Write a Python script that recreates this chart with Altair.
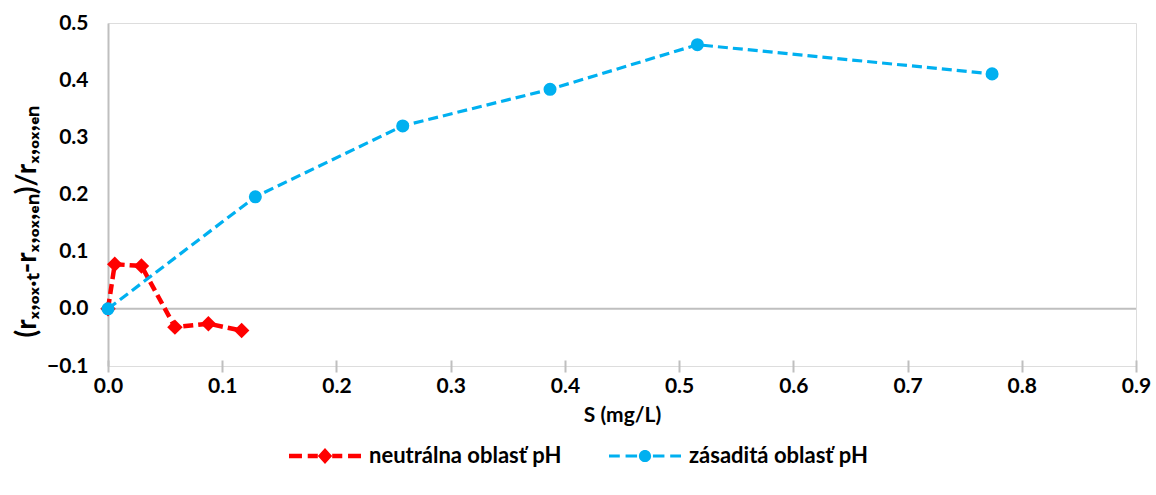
import altair as alt
import pandas as pd

series_names = ["neutrálna oblasť pH", "zásaditá oblasť pH"]
series_colors = ["#FF0000", "#00B0F0"]

neutral_S = [0.0, 0.0059, 0.0293, 0.0586, 0.0879, 0.117]
neutral_val = [0.0, 0.078, 0.075, -0.032, -0.026, -0.038]

basic_S = [0.0, 0.129, 0.258, 0.387, 0.516, 0.774]
basic_val = [0.0, 0.196, 0.320, 0.384, 0.462, 0.411]

x_ticks = [0.0, 0.1, 0.2, 0.3, 0.4, 0.5, 0.6, 0.7, 0.8, 0.9]
y_ticks = [-0.1, 0.0, 0.1, 0.2, 0.3, 0.4, 0.5]

x_title = "S (mg/L)"
y_title = "(rₓ,ₒₓ.ₜ-rₓ,ₒₓ,ₑₙ)/rₓ,ₒₓ,ₑₙ"

rows = []
for s, v in zip(neutral_S, neutral_val):
    rows.append({"S": s, "val": v, "series": series_names[0]})
for s, v in zip(basic_S, basic_val):
    rows.append({"S": s, "val": v, "series": series_names[1]})
df = pd.DataFrame(rows)

FONT = "Lato"
GRAY = "#BFBFBF"

# legend symbols: dashed line with marker (unit box -1..1)
red_path = ("M-1,-0.06H-0.64V0.06H-1Z M-0.48,-0.06H-0.2V0.06H-0.48Z "
            "M0,-0.22L0.2,0L0,0.22L-0.2,0Z "
            "M0.2,-0.06H0.48V0.06H0.2Z M0.64,-0.06H1V0.06H0.64Z")
blue_path = ("M-1,-0.045H-0.7V0.045H-1Z M-0.54,-0.045H-0.22V0.045H-0.54Z "
             "M-0.17,0A0.17,0.17 0 1,0 0.17,0A0.17,0.17 0 1,0 -0.17,0Z "
             "M0.22,-0.045H0.54V0.045H0.22Z M0.7,-0.045H1V0.045H0.7Z")

x_scale = alt.Scale(domain=[0, 0.9], nice=False, zero=False, padding=0)
y_scale = alt.Scale(domain=[-0.1, 0.5], nice=False, zero=False, padding=0)

x_enc = alt.X(
    "S:Q",
    scale=x_scale,
    axis=alt.Axis(
        values=x_ticks, format=".1f", title=x_title, grid=False, labelFlush=False,
        domain=False, offset=-6, tickColor=GRAY, tickWidth=2, tickSize=12,
        labelFont=FONT, labelFontSize=21, labelFontWeight="bold", labelColor="black",
        labelPadding=3, titleFont=FONT, titleFontSize=21, titleFontWeight="bold",
        titleColor="black", titlePadding=8,
    ),
)
y_enc = alt.Y(
    "val:Q",
    scale=y_scale,
    axis=alt.Axis(
        values=y_ticks, format=".1f", title=y_title, grid=False, labelFlush=False,
        domainColor=GRAY, domainWidth=2, ticks=False,
        labelFont=FONT, labelFontSize=21, labelFontWeight="bold", labelColor="black",
        labelPadding=20, titleFont=FONT, titleFontSize=28, titleFontWeight="bold",
        titleColor="black", titleAngle=270, titleX=-81, titleY=198,
        titleAlign="center", titleBaseline="middle",
    ),
)

color_scale = alt.Scale(domain=series_names, range=series_colors)

zero_rule = alt.Chart(pd.DataFrame({"z": [0.0]})).mark_rule(
    color=GRAY, strokeWidth=2
).encode(y=alt.Y("z:Q", scale=y_scale))

lines = alt.Chart(df).mark_line().encode(
    x=x_enc,
    y=y_enc,
    color=alt.Color("series:N", scale=color_scale, legend=None),
    strokeDash=alt.StrokeDash(
        "series:N",
        scale=alt.Scale(domain=series_names, range=[[10, 5], [10, 5]]),
        legend=None,
    ),
    strokeWidth=alt.StrokeWidth(
        "series:N",
        scale=alt.Scale(domain=series_names, range=[4.5, 3.2]),
        legend=None,
    ),
)

points = alt.Chart(df).mark_point(filled=True, opacity=1).encode(
    x=x_enc,
    y=y_enc,
    color=alt.Color("series:N", scale=color_scale, legend=None),
    shape=alt.Shape(
        "series:N",
        scale=alt.Scale(domain=series_names, range=["diamond", "circle"]),
        legend=None,
    ),
    size=alt.Size(
        "series:N",
        scale=alt.Scale(domain=series_names, range=[240, 170]),
        legend=None,
    ),
)

leg = alt.Legend(
    title=None, orient="none", legendX=181, legendY=397, direction="horizontal",
    symbolSize=5184, symbolStrokeWidth=0, symbolOpacity=1,
    labelFont=FONT, labelFontSize=22, labelFontWeight="bold", labelColor="black",
    labelOffset=8, columnPadding=47, labelLimit=400,
)

legend_layer = alt.Chart(df).transform_filter("false").mark_point(
    filled=True, opacity=1
).encode(
    x=x_enc,
    y=y_enc,
    color=alt.Color("series:N", scale=color_scale, legend=leg),
    shape=alt.Shape(
        "series:N",
        scale=alt.Scale(domain=series_names, range=[red_path, blue_path]),
        legend=leg,
    ),
)

chart = alt.layer(zero_rule, lines, points, legend_layer).resolve_scale(
    color="independent", shape="independent"
).properties(
    width=1028, height=343,
    autosize=alt.AutoSizeParams(type="none"),
    padding={"left": 108, "top": 23, "right": 20, "bottom": 129},
).configure_view(
    stroke=GRAY, strokeWidth=2
).configure(background="white")

chart.save("out.html", embed_options={"renderer": "svg", "actions": False})
